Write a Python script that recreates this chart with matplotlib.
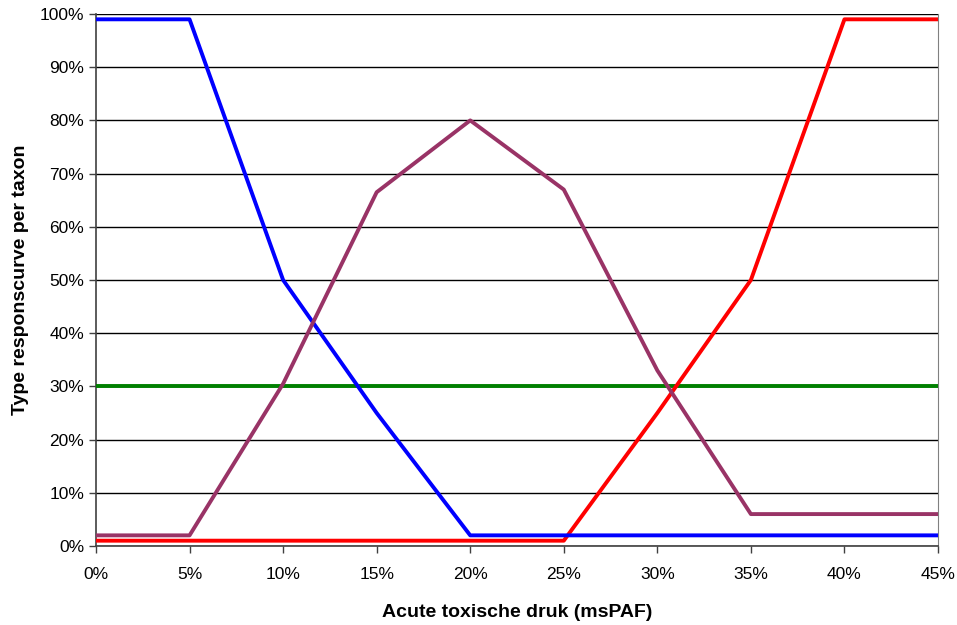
import matplotlib
matplotlib.use("Agg")
import matplotlib.pyplot as plt
from matplotlib.ticker import FuncFormatter, MultipleLocator

plt.rcParams['font.family'] = ['Liberation Sans', 'DejaVu Sans']

x = [0, 5, 10, 15, 20, 25, 30, 35, 40, 45]
blue = [99, 99, 50, 25, 2, 2, 2, 2, 2, 2]
purple = [2, 2, 30.5, 66.5, 80, 67, 33, 6, 6, 6]
red = [1, 1, 1, 1, 1, 1, 25, 50, 99, 99]
green = [30, 30, 30, 30, 30, 30, 30, 30, 30, 30]

fig = plt.figure(figsize=(9.57, 6.25), dpi=100)
ax = fig.add_axes([96/957, 79/625, 842/957, 532/625])

lw = 2.8
ax.plot(x, green, color='#008000', lw=lw, zorder=3)
ax.plot(x, red, color='#ff0000', lw=lw, zorder=4)
ax.plot(x, blue, color='#0000ff', lw=lw, zorder=5)
ax.plot(x, purple, color='#993366', lw=lw, zorder=6)

ax.set_xlim(0, 45)
ax.set_ylim(0, 100)
ax.xaxis.set_major_locator(MultipleLocator(5))
ax.yaxis.set_major_locator(MultipleLocator(10))
fmt = FuncFormatter(lambda v, p: f"{v:.0f}%")
ax.xaxis.set_major_formatter(fmt)
ax.yaxis.set_major_formatter(fmt)
ax.grid(axis='y', color='black', lw=1)
ax.set_axisbelow(True)

for s in ['left', 'bottom']:
    ax.spines[s].set_color('#404040')
    ax.spines[s].set_linewidth(1.2)
ax.spines['right'].set_color('#808080')
ax.spines['top'].set_visible(False)
ax.tick_params(axis='both', direction='out', length=5, color='#404040', labelsize=12.5, width=1)
ax.tick_params(axis='x', pad=10)

ax.set_xlabel('Acute toxische druk (msPAF)', fontsize=14, fontweight='bold', labelpad=16)
ax.set_ylabel('Type responscurve per taxon', fontsize=14, fontweight='bold', labelpad=8)

fig.savefig('out.png', dpi=100)
